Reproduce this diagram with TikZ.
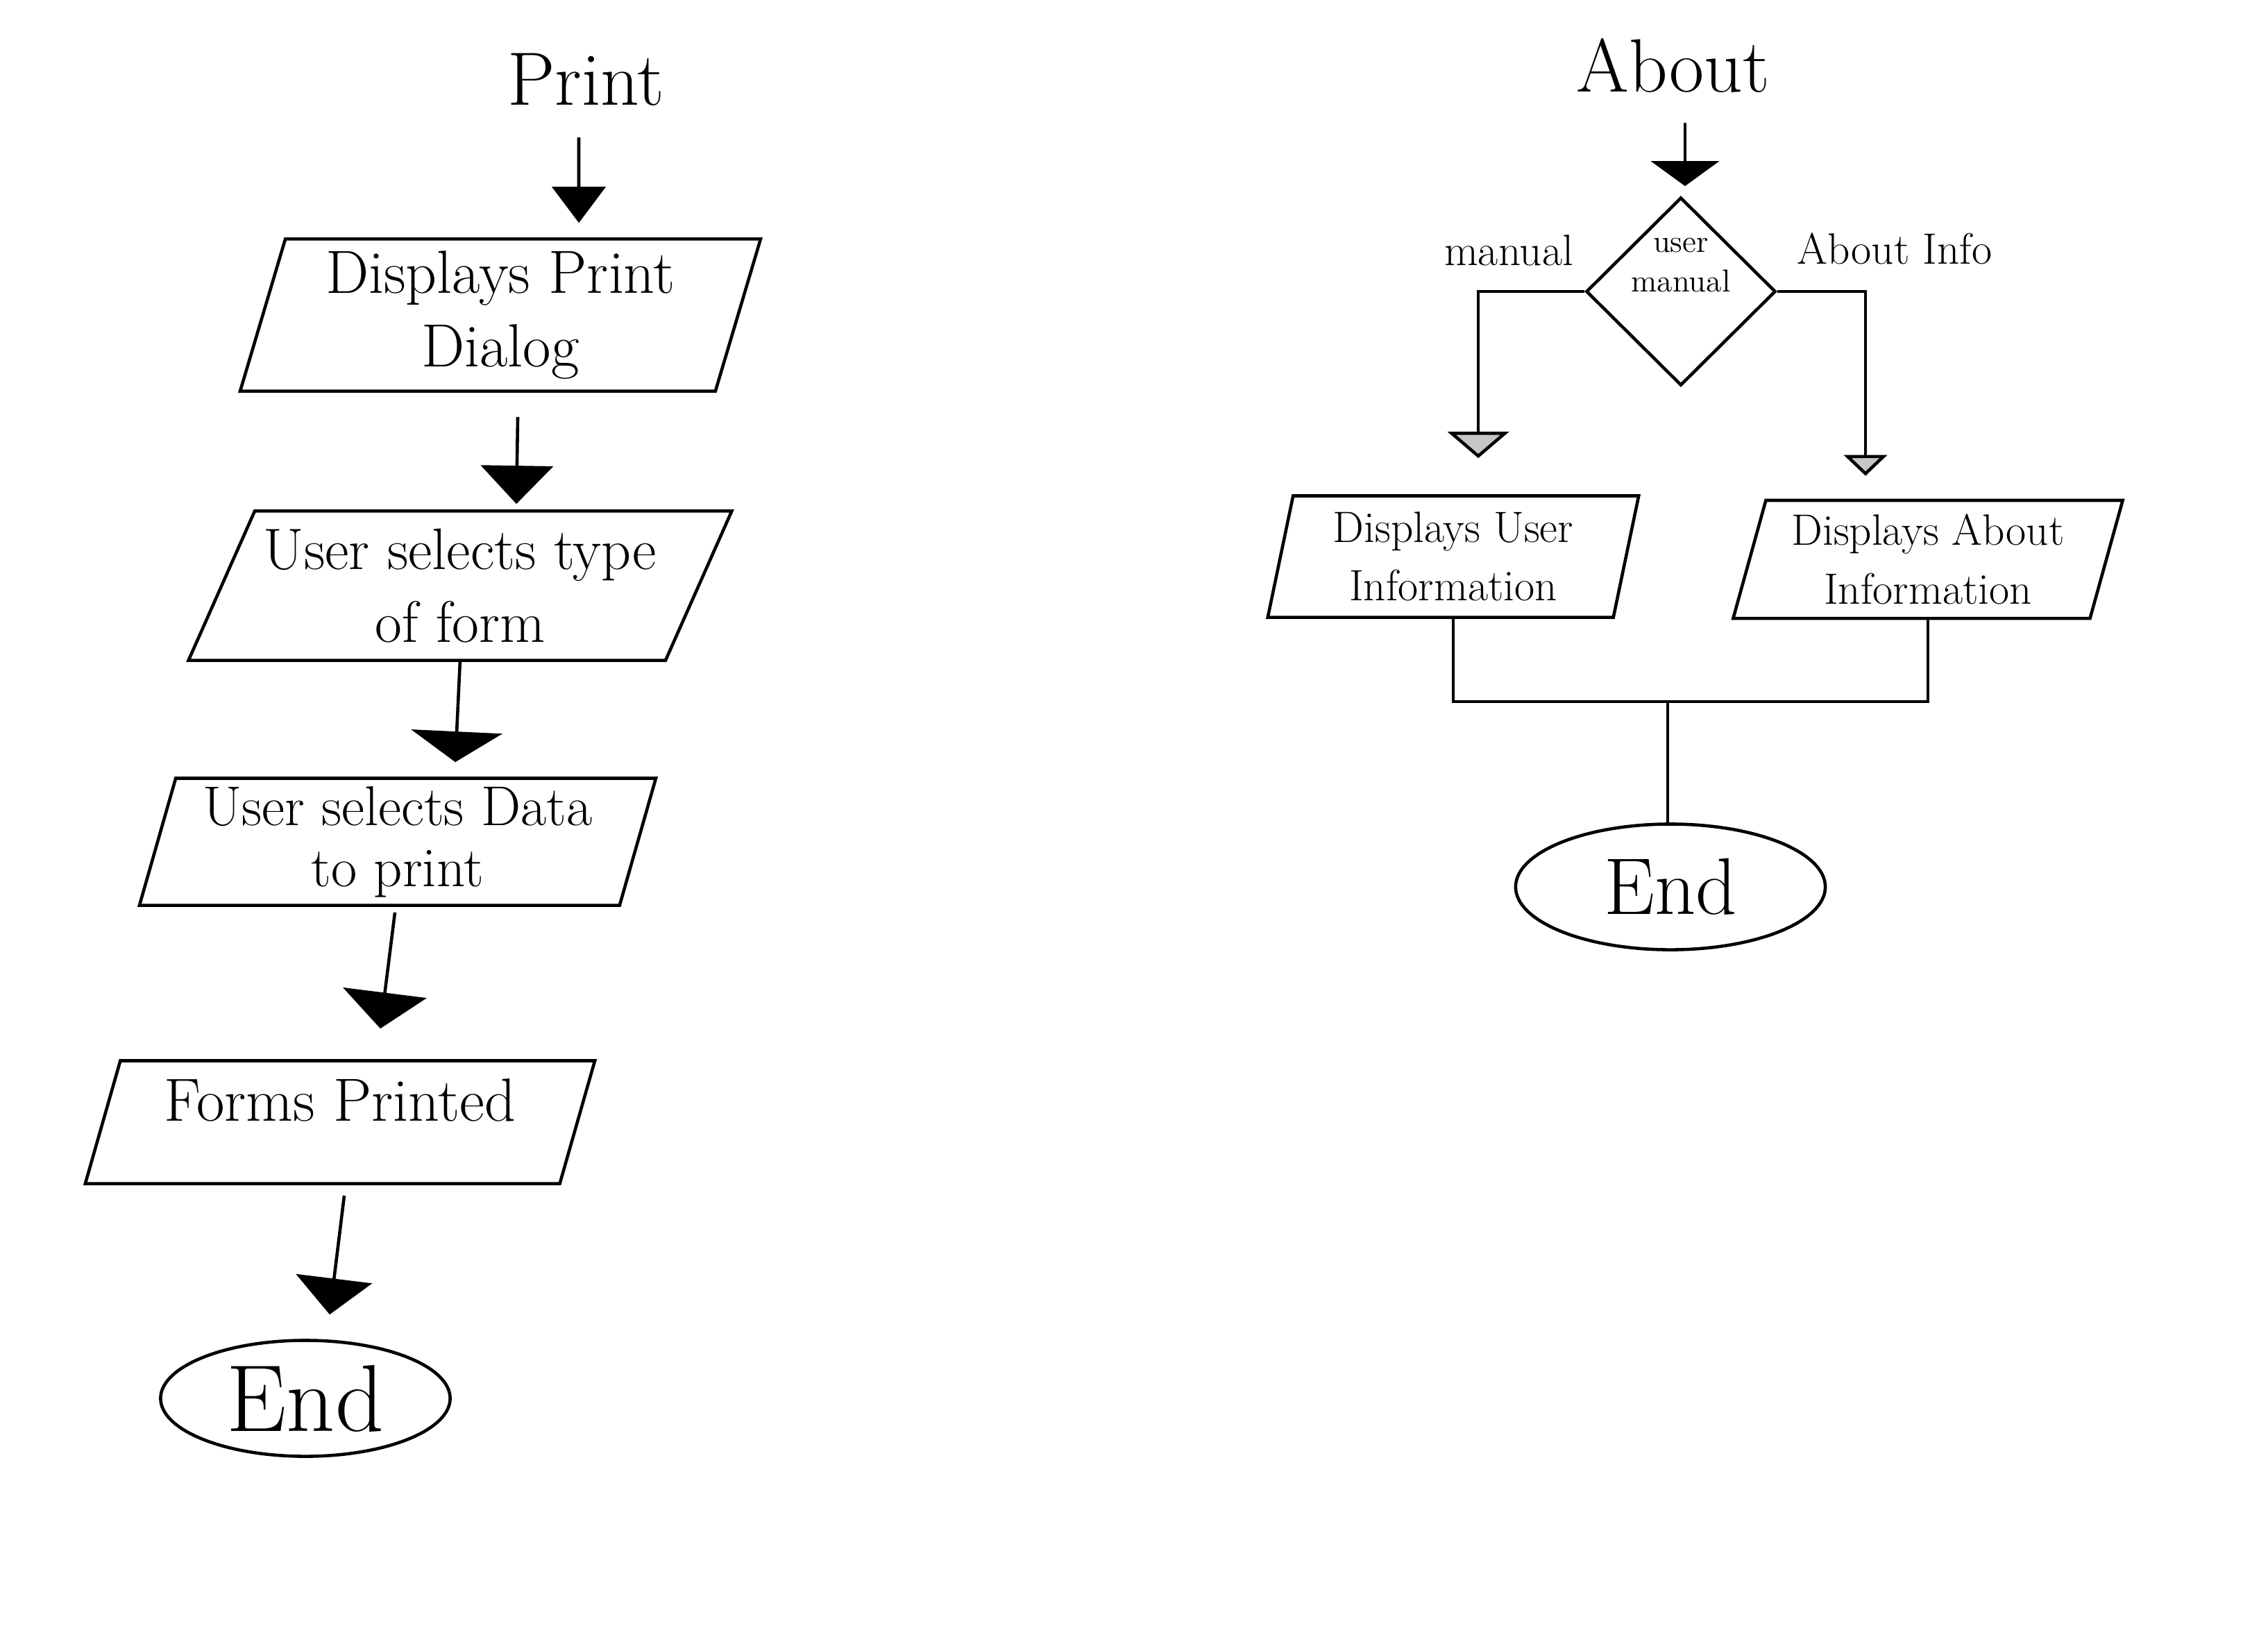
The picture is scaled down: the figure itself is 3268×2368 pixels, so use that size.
\documentclass[tikz,border=0pt]{standalone}
\usetikzlibrary{shapes.geometric,arrows.meta,calc}
\begin{document}
\begin{tikzpicture}[x=0.01cm,y=-0.01cm, line width=1.3pt,
  box/.style={draw, trapezium, trapezium stretches=true, align=center, inner sep=0pt},
  bigtxt/.style={font=\fontsize{25}{30}\selectfont},
  smalltxt/.style={font=\fontsize{18}{24}\selectfont},
  title/.style={font=\fontsize{31}{36}\selectfont},
  lab/.style={font=\fontsize{18}{22}\selectfont},
  term/.style={draw, ellipse, inner sep=0pt},
  arr/.style 2 args={-{Triangle[width=#1,length=#2]}},
  arro/.style 2 args={-{Triangle[width=#1,length=#2,fill=gray!45]}}
]
\fill[white] (0,0) rectangle (3268,2368);

% ---------- Print column ----------
\node[title] (ptitle) at (844,115) {Print};
\node[box, bigtxt, trapezium left angle=74, trapezium right angle=106,
      minimum width=7.5cm, minimum height=2.19cm] (b1) at (721,454) {Displays Print\\Dialog};
\node[box, font=\fontsize{24}{30}\selectfont, trapezium left angle=61, trapezium right angle=119,
      minimum width=7.84cm, minimum height=2.15cm] (b2) at (663,844) {User selects type\\of form};
\node[box, font=\fontsize{23}{25}\selectfont, trapezium left angle=74, trapezium right angle=106,
      minimum width=7.44cm, minimum height=1.83cm] (b3) at (573,1213) {User selects Data\\to print};
\node[box, bigtxt, trapezium left angle=72, trapezium right angle=108,
      minimum width=7.35cm, minimum height=1.77cm] (b4) at (490,1617) {Forms Printed\\[-12pt]\mbox{}};
\node[term, minimum width=4.17cm, minimum height=1.67cm, font=\fontsize{39}{44}\selectfont] (e1) at (440,2015) {End};

\draw[arr={0.77cm}{0.52cm}] ($(ptitle.center)+(-10,83)$) -- ($(b1.north)+(113,-21)$);
\draw[arr={1.04cm}{0.55cm}] ($(b1.south)+(25,35)$) -- ($(b2.north)+(81,-8)$);
\draw[arr={1.31cm}{0.44cm}] ($(b2.south)+(0,-4)$) -- ($(b3.north)+(83,-21)$);
\draw[arr={1.21cm}{0.52cm}] ($(b3.south)+(-4,8)$) -- ($(b4.north)+(58,-44)$);
\draw[arr={1.10cm}{0.52cm}] ($(b4.south)+(6,15)$) -- ($(e1.north)+(35,-35)$);

% ---------- About column ----------
\node[title] (atitle) at (2411,94) {About};
\node[draw, diamond, minimum width=2.73cm, minimum height=2.71cm, inner sep=0pt,
      label={[font=\fontsize{13}{16}\selectfont, align=center, yshift=0.38cm]center:user\\manual}] (dia) at (2422,420) {};
\node[lab] (lman) at (2174,361) {manual};
\node[lab] (labout) at (2730,358) {About Info};

\node[box, smalltxt, trapezium left angle=78, trapezium right angle=102,
      minimum width=5.35cm, minimum height=1.75cm] (bl) at (2094,802) {Displays User\\Information};
\node[box, smalltxt, trapezium left angle=73, trapezium right angle=107,
      minimum width=5.62cm, minimum height=1.70cm] (br) at (2778,806) {Displays About\\Information};
\node[term, minimum width=4.46cm, minimum height=1.81cm, font=\fontsize{33}{38}\selectfont] (e2) at (2407,1278) {End};

\coordinate (m) at (2403,1011);

\draw[arr={0.98cm}{0.36cm}] ($(atitle.center)+(17,83)$) -- ($(dia.north)+(6,-14)$);
\draw[arro={0.88cm}{0.38cm}] (dia.west) -| ($(bl.north)+(36,-52)$);
\draw[arro={0.62cm}{0.30cm}] (dia.east) -| ($(br.north)+(-90,-33)$);
\draw (bl.south) |- (m) -| (br.south);
\draw (m) -- (m |- e2.north);
\end{tikzpicture}
\end{document}
